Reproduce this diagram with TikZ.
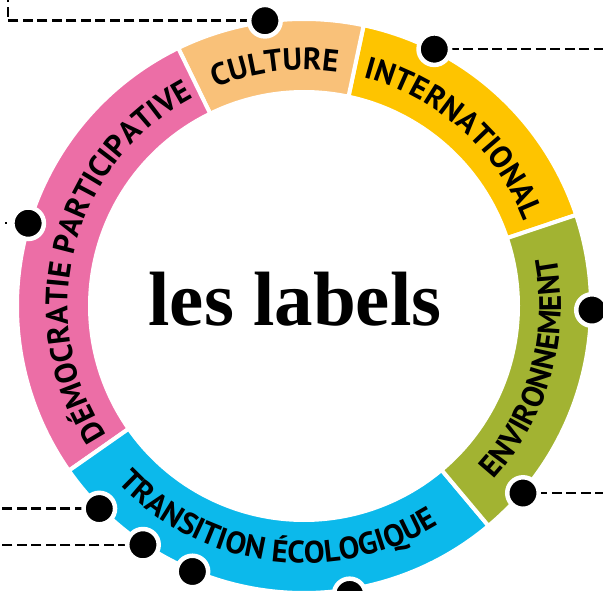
\documentclass[tikz,border=0pt]{standalone}
\usepackage{fontspec}
\newfontfamily\titlefont{Liberation Serif}
\newfontfamily\ringfont{PT Sans}
\usetikzlibrary{decorations.text}
\definecolor{culture}{RGB}{249,193,121}
\definecolor{inter}{RGB}{254,196,0}
\definecolor{enviro}{RGB}{162,179,50}
\definecolor{transi}{RGB}{12,185,235}
\definecolor{democ}{RGB}{236,110,166}
\def\ringpart[#1](#2:#3){\filldraw[fill=#1, draw=white, line width=4pt] (#2:287) arc (#2:#3:287) -- (#3:214) arc (#3:#2:214) -- cycle;}
\def\ringlabel[#1](#2:#3:#4){\path[decorate, decoration={text along path, text align=center, text={|\ringfont\bfseries\fontsize{31}{34}\selectfont|#1}}] (#2:#4) arc (#2:#3:#4);}
\tikzset{
  ringdot/.style={circle, fill=black, draw=white, line width=4.5pt, minimum size=31.5pt, inner sep=0pt},
  leader/.style={line width=2.5pt, dash pattern=on 10pt off 4.5pt}
}

\begin{document}
\begin{tikzpicture}[x=1pt, y=1pt]
			%%%%% START %%%%%
			\useasboundingbox (0,0) rectangle (603,590);
			\coordinate (ctr) at (304,284);
			\coordinate (leftedge) at (0,0);
			\coordinate (rightedge) at (603,0);
			
			\begin{scope}[shift={(ctr)}]
			% ring
			\ringpart[inter](18.5:78)
			\ringpart[culture](78:116)
			\ringpart[democ](116:215)
			\ringpart[transi](215:310)
			\ringpart[enviro](-50:18.5)
			
			% labels (top ones clockwise, bottom ones anticlockwise)
			\ringlabel[INTERNATIONAL](78:18.5:236)
			\ringlabel[CULTURE](116:78:236)
			\ringlabel[DÉMOCRATIE PARTICIPATIVE](215:116:236)
			\ringlabel[TRANSITION ÉCOLOGIQUE](215:310:257)
			\ringlabel[ENVIRONNEMENT](-50:18.5:257)
			
			% dot places
			\coordinate (p1) at (97.8:288);
			\coordinate (p2) at (63.1:288);
			\coordinate (p3) at (163.3:288);
			\coordinate (p4) at (-0.8:288);
			\coordinate (p5) at (-40.5:288);
			\coordinate (p6) at (224.7:288);
			\coordinate (p7) at (236:288);
			\coordinate (p8) at (247.2:288);
			\coordinate (p9) at (-81:292);
			\end{scope}
			
			% dashed leaders
			\draw[leader] (p1) -| (8,590);
			\draw[leader] (p2) -- (p2 -| rightedge);
			\draw[leader, dash pattern=on 2pt off 40pt] ([xshift=5pt]p3 -| leftedge) -- (p3);
			\draw[leader] (p5) -- (p5 -| rightedge);
			\draw[leader] (p6) -- (p6 -| leftedge);
			\draw[leader] (p7) -- (p7 -| leftedge);
			
			% dots
			\foreach \i in {1,...,9}
				\node[ringdot] (d\i) at (p\i) {};
			
			\node[anchor=base] (title) at ([shift={(-9,-20)}]ctr) {\titlefont\bfseries\fontsize{77}{80}\selectfont les labels};
			%%%%% END %%%%%
\end{tikzpicture}
\end{document}
